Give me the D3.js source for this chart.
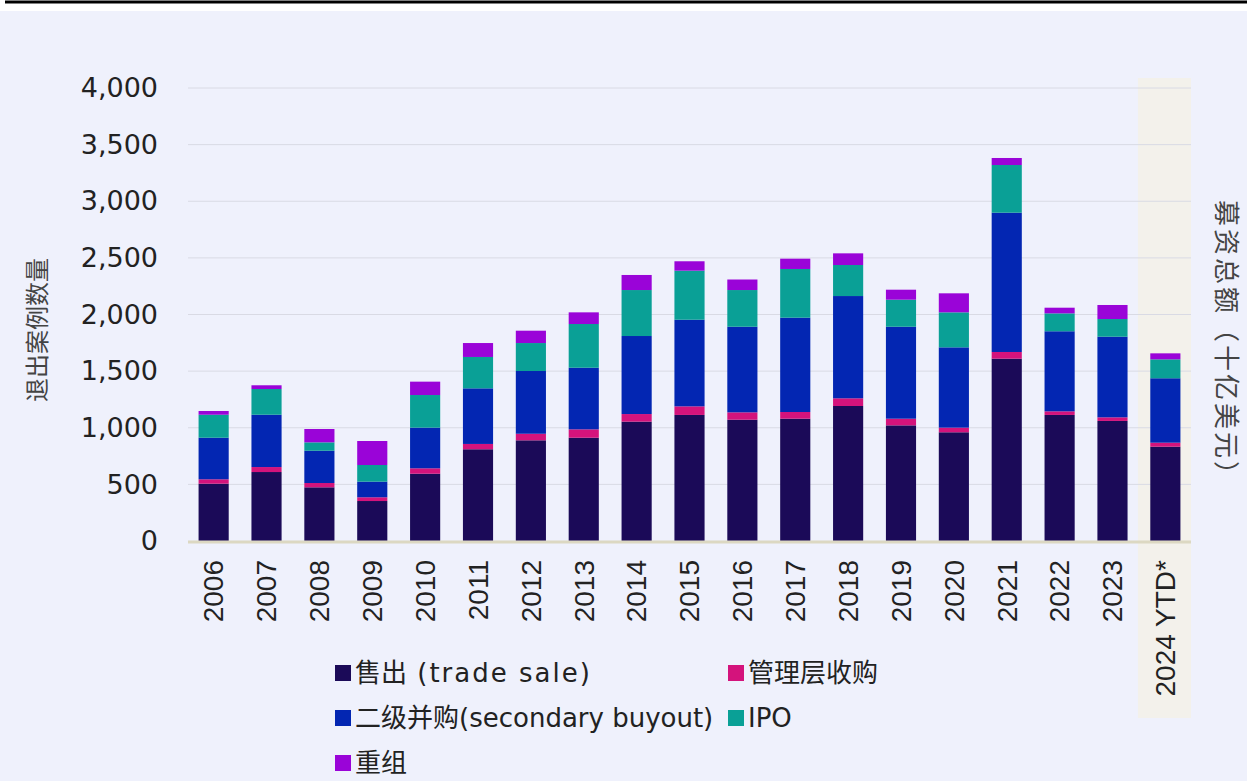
<!DOCTYPE html>
<html lang="zh">
<head>
    <meta charset="UTF-8">
    <script src="https://d3js.org/d3.v7.min.js"></script>
    <title>退出案例数量</title>
    <style>
        body { margin: 0; background: #fff; }
        svg { display: block; }
    </style>
</head>
<body>
<div id="chart"></div>
<script>
    // years and exit counts by type
    const years = ["2006", "2007", "2008", "2009", "2010", "2011", "2012", "2013", "2014", "2015",
        "2016", "2017", "2018", "2019", "2020", "2021", "2022", "2023", "2024 YTD*"]
    const tradeSale = [506, 609, 474, 353, 594, 810, 889, 912, 1054, 1113, 1071, 1080, 1192, 1021, 960, 1610, 1113, 1060, 833]
    const mbo = [39, 44, 38, 33, 48, 47, 58, 74, 67, 76, 65, 59, 68, 59, 41, 59, 32, 32, 35]
    const secondary = [367, 462, 285, 138, 359, 491, 554, 544, 689, 765, 756, 833, 903, 812, 709, 1230, 707, 712, 569]
    const ipo = [203, 227, 74, 147, 288, 277, 247, 386, 406, 433, 324, 430, 274, 239, 309, 421, 158, 156, 167]
    const restructure = [33, 33, 118, 212, 118, 123, 109, 103, 133, 83, 93, 91, 103, 88, 168, 62, 50, 124, 53]
    const yTicks = [0, 500, 1000, 1500, 2000, 2500, 3000, 3500, 4000]

    // legend labels: [chinese, english]
    const seriesNames = [["售出", " (trade sale)"], ["管理层收购", ""], ["二级并购", "(secondary buyout)"], ["", "IPO"], ["重组", ""]]
    const colors = ["#1b0a58", "#d4137c", "#0326b2", "#0aa096", "#9a04d8"]

    const W = 1247, H = 781
    const padLeft = 188, padRight = 1191, padTop = 88, padBottom = 541

    const rows = years.map((yr, i) => ({
        year: yr,
        s0: tradeSale[i], s1: mbo[i], s2: secondary[i], s3: ipo[i], s4: restructure[i]
    }))
    const keys = ["s0", "s1", "s2", "s3", "s4"]
    const stacked = d3.stack().keys(keys)(rows)

    const svg = d3.select("#chart").append("svg")
        .attr("width", W)
        .attr("height", H)

    // background
    svg.append("rect").attr("width", W).attr("height", H).attr("fill", "#eff1fc")
    svg.append("rect").attr("width", W).attr("height", 11).attr("fill", "#fff")
    svg.append("line")
        .attr("x1", 5).attr("x2", W).attr("y1", 2).attr("y2", 2)
        .attr("stroke", "#000").attr("stroke-width", 3)

    const x = d3.scaleBand().domain(years).range([padLeft, padRight]).paddingInner(0.43).paddingOuter(0.2)
    const y = d3.scaleLinear().domain([0, 4000]).range([padBottom, padTop])

    // YTD shading
    const shadeX = x("2024 YTD*") - x.step() * x.paddingInner() / 2 - 1
    svg.append("rect")
        .attr("x", shadeX)
        .attr("y", 78)
        .attr("width", padRight - shadeX)
        .attr("height", 640)
        .attr("fill", "#f3f1eb")

    // grid
    svg.append("g")
        .selectAll("line")
        .data(yTicks.slice(1))
        .join("line")
        .attr("x1", padLeft).attr("x2", padRight)
        .attr("y1", d => y(d)).attr("y2", d => y(d))
        .attr("stroke", "#d9dae4").attr("stroke-width", 1)

    // y axis labels
    const yAxis = d3.axisLeft(y).tickValues(yTicks).tickFormat(d3.format(",")).tickSize(0).tickPadding(0)
    svg.append("g")
        .attr("transform", `translate(158,0)`)
        .call(yAxis)
        .call(g => g.select(".domain").remove())
        .selectAll("text")
        .attr("font-family", "'DejaVu Sans', sans-serif")
        .attr("font-size", 27)
        .attr("fill", "#222")

    // bars
    svg.append("g")
        .selectAll("g")
        .data(stacked)
        .join("g")
        .attr("fill", (d, i) => colors[i])
        .selectAll("rect")
        .data(d => d)
        .join("rect")
        .attr("x", d => x(d.data.year))
        .attr("width", x.bandwidth())
        .attr("y", d => y(d[1]))
        .attr("height", d => y(d[0]) - y(d[1]))

    // baseline
    svg.append("line")
        .attr("x1", padLeft).attr("x2", padRight)
        .attr("y1", padBottom + 1).attr("y2", padBottom + 1)
        .attr("stroke", "#dcd8c2").attr("stroke-width", 3)

    // x labels
    const xAxis = d3.axisBottom(x).tickSize(0).tickPadding(0)
    svg.append("g")
        .attr("transform", `translate(0,${padBottom})`)
        .call(xAxis)
        .call(g => g.select(".domain").remove())
        .selectAll("text")
        .attr("font-family", "'Liberation Sans', Arial, sans-serif")
        .attr("font-size", 28)
        .attr("fill", "#222")
        .attr("text-anchor", "end")
        .attr("dy", "0.35em")
        .attr("transform", "translate(0,19) rotate(-90)")

    // axis titles
    svg.append("text")
        .attr("transform", "translate(46,330) rotate(-90)")
        .attr("text-anchor", "middle")
        .attr("font-family", "'Noto Sans CJK SC', sans-serif")
        .attr("font-size", 24)
        .attr("fill", "#444")
        .text("退出案例数量")

    svg.append("text")
        .attr("transform", "translate(1217,345) rotate(90)")
        .attr("text-anchor", "middle")
        .attr("font-family", "'Noto Sans CJK SC', sans-serif")
        .attr("font-size", 26)
        .attr("letter-spacing", 3)
        .attr("fill", "#444")
        .text("募资总额（十亿美元）")

    // legend
    const legendPos = [[335, 673], [728, 673], [335, 718], [728, 718], [335, 763]]
    const legend = svg.append("g")
        .selectAll("g")
        .data(seriesNames)
        .join("g")
        .attr("transform", (d, i) => `translate(${legendPos[i][0]},${legendPos[i][1]})`)
    legend.append("rect")
        .attr("x", 0).attr("y", -8).attr("width", 16).attr("height", 16)
        .attr("fill", (d, i) => colors[i])
    const lt = legend.append("text")
        .attr("x", 20)
        .attr("dy", "0.36em")
        .attr("font-size", 26)
        .attr("fill", "#222")
    lt.append("tspan")
        .attr("font-family", "'Noto Sans CJK SC', sans-serif")
        .text(d => d[0])
    lt.append("tspan")
        .attr("font-family", "'DejaVu Sans', sans-serif")
        .attr("letter-spacing", (d, i) => i === 0 ? 2 : 0)
        .text(d => d[1])
</script>
</body>
</html>
